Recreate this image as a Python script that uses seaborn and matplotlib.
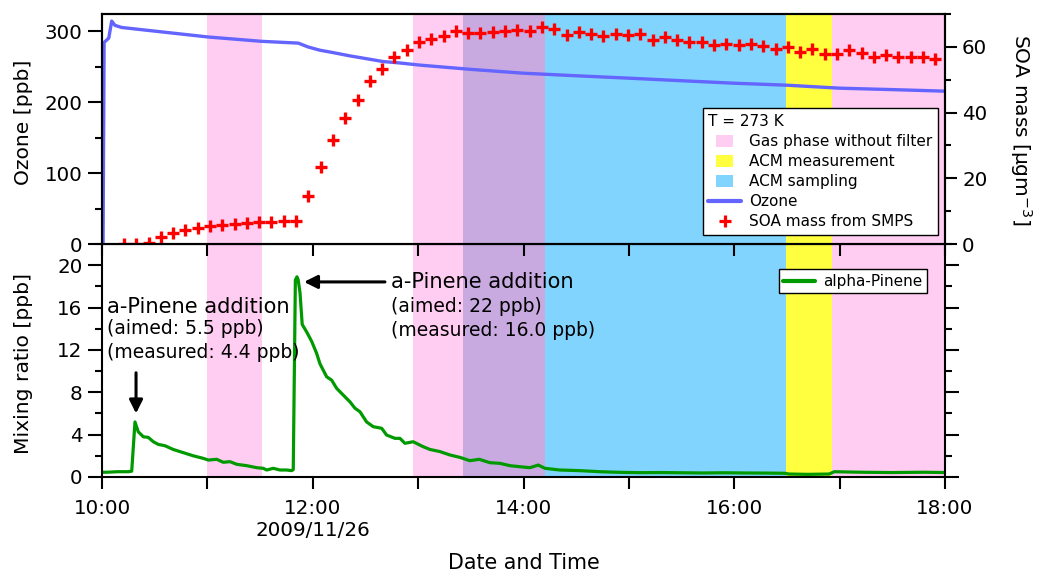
import matplotlib
matplotlib.use("Agg")
import numpy as np
import pandas as pd
import matplotlib.pyplot as plt
import seaborn as sns
from matplotlib.patches import Patch, Rectangle
from matplotlib.lines import Line2D
from matplotlib.legend_handler import HandlerPatch
from matplotlib.ticker import MultipleLocator, FixedLocator

# ---------------------------------------------------------------------------
# Data (time in decimal hours on 2009/11/26)
# ---------------------------------------------------------------------------
ozone_time = [10.01, 10.02, 10.064, 10.092, 10.123, 10.187, 11.008, 11.515,
              11.862, 11.957, 12.068, 12.19, 12.353, 12.511, 12.669, 12.827,
              13.017, 13.5, 14.0, 14.5, 15.0, 15.5, 16.0, 16.5, 17.0, 17.5, 18.0]
ozone_ppb = [0, 284, 290, 314, 308, 305, 291.6, 285.5,
             283, 277.5, 273, 269.7, 265, 261, 257, 255,
             252, 246, 240.6, 237, 233.6, 230, 226.5, 223.7, 219.5, 217.5, 215.3]

# SMPS scans: first scan start and scan interval in minutes after 10:00
smps_first_scan_min = 12.5
smps_scan_interval_min = 7.0
soa_mass = [0, 0, 0.4, 2.0, 3.3, 4.3, 4.9, 5.6, 5.8, 6.2, 6.5, 6.7, 6.7, 6.9, 6.9,
            14.6, 23.4, 31.7, 38.3, 43.8, 49.7, 53.4, 57.0,
            59.0, 61.5, 62.5, 63.2, 64.7, 64.3, 64.2, 64.5, 64.7, 65.0, 64.7, 65.9,
            65.3, 63.7, 64.5, 64.0, 63.3, 64.0,
            63.5, 63.8, 62.0, 63.0, 62.2, 61.5, 61.5, 60.5, 61.0, 60.5, 60.8, 60.2,
            59.2, 60.0, 58.5, 59.5, 57.8, 57.8, 59.0,
            58.0, 57.0, 57.5, 57.0, 57.0, 56.8, 56.3]

apinene_time = [10.0, 10.05, 10.15, 10.25, 10.282, 10.313, 10.344, 10.392, 10.439,
                10.487, 10.534, 10.598, 10.676, 10.771, 10.866, 10.961, 11.009,
                11.088, 11.151, 11.214, 11.278, 11.373, 11.468, 11.530, 11.563,
                11.625, 11.689, 11.752, 11.80, 11.815, 11.835, 11.85, 11.862,
                11.879, 11.9, 11.942, 11.99, 12.037, 12.068, 12.132, 12.179,
                12.227, 12.289, 12.353, 12.4, 12.448, 12.511, 12.574, 12.654,
                12.701, 12.78, 12.827, 12.875, 12.953, 13.048, 13.112, 13.207,
                13.302, 13.397, 13.491, 13.58, 13.681, 13.776, 13.871, 13.966,
                14.061, 14.14, 14.203, 14.345, 14.535, 14.725, 14.915, 15.104,
                15.3, 15.5, 15.7, 15.9, 16.1, 16.3, 16.48, 16.52, 16.7, 16.9,
                16.95, 17.2, 17.5, 17.8, 18.0]
apinene_ppb = [0.45, 0.45, 0.5, 0.5, 0.55, 5.2, 4.27, 3.8, 3.74,
               3.33, 3.08, 2.95, 2.6, 2.3, 2.0, 1.76, 1.6,
               1.67, 1.39, 1.45, 1.2, 1.07, 0.88, 0.82, 0.66,
               0.82, 0.66, 0.66, 0.6, 0.7, 18.6, 18.9, 18.6,
               17.4, 14.4, 13.7, 12.8, 11.67, 10.7, 9.46, 9.15,
               8.37, 7.74, 7.1, 6.5, 6.16, 5.2, 4.75, 4.6,
               3.96, 3.65, 3.65, 3.18, 3.33, 2.86, 2.6, 2.4,
               2.08, 1.85, 1.54, 1.67, 1.35, 1.29, 1.07, 0.97,
               0.88, 1.13, 0.82, 0.66, 0.6, 0.5, 0.44, 0.41,
               0.42, 0.4, 0.38, 0.4, 0.38, 0.37, 0.35, 0.28, 0.25, 0.28,
               0.5, 0.45, 0.42, 0.45, 0.42]

gas_phase_periods = [(11.0, 11.52), (12.955, 14.20), (16.93, 18.0)]
acm_sampling_periods = [(13.43, 16.495)]
acm_measurement_periods = [(16.495, 16.93)]

x_ticks = [10, 12, 14, 16, 18]
x_tick_labels = ["10:00", "12:00\n2009/11/26", "14:00", "16:00", "18:00"]

# ---------------------------------------------------------------------------
# Styling
# ---------------------------------------------------------------------------
PINK = "#FFCCF2"
BLUE = "#80D4FD"
YELLOW = "#FFFF40"
PURPLE = "#C8AAE1"
OZONE = "#6464FF"
GREEN = "#009A00"
RED = "#FF0000"

sns.set_style("ticks")
plt.rcParams["font.family"] = ["DejaVu Sans"]
plt.rcParams["axes.linewidth"] = 1.5
for key in ("text.color", "axes.labelcolor", "xtick.color", "ytick.color",
            "axes.edgecolor"):
    plt.rcParams[key] = "black"

smps_time = (smps_first_scan_min + smps_scan_interval_min * np.arange(len(soa_mass))) / 60.0 + 10.0
soa_df = pd.DataFrame({"time": smps_time, "soa": soa_mass})
ozone_df = pd.DataFrame({"time": ozone_time, "ozone": ozone_ppb})
apinene_df = pd.DataFrame({"time": apinene_time, "ppb": apinene_ppb})

fig = plt.figure(figsize=(10.38, 5.75), dpi=100, facecolor="white")
W, H = 1038, 575
ax_bot = fig.add_axes([102 / W, 1 - 477 / H, 843 / W, 233 / H])
ax_top = fig.add_axes([102 / W, 1 - 244 / H, 843 / W, 230 / H], sharex=ax_bot)
ax_soa = ax_top.twinx()


def shade(ax):
    for a, b in gas_phase_periods:
        ax.axvspan(a, b, color=PINK, lw=0, zorder=0)
    for a, b in acm_sampling_periods:
        ax.axvspan(a, b, color=BLUE, lw=0, zorder=0)
    for a, b in acm_measurement_periods:
        ax.axvspan(a, b, color=YELLOW, lw=0, zorder=0)
    # overlap of gas-phase and sampling periods
    for g0, g1 in gas_phase_periods:
        for s0, s1 in acm_sampling_periods:
            lo, hi = max(g0, s0), min(g1, s1)
            if hi > lo:
                ax.axvspan(lo, hi, color=PURPLE, lw=0, zorder=0.5)


shade(ax_top)
shade(ax_bot)

sns.lineplot(data=ozone_df, x="time", y="ozone", ax=ax_top, color=OZONE,
             lw=2.4, legend=False, zorder=3)
sns.lineplot(data=soa_df, x="time", y="soa", ax=ax_soa, color=RED, marker="+",
             linestyle="", markersize=8.3, markeredgewidth=2.4,
             markeredgecolor=RED, legend=False, zorder=4)
sns.lineplot(data=apinene_df, x="time", y="ppb", ax=ax_bot, color=GREEN,
             lw=2.3, legend=False, zorder=3)

# limits
ax_bot.set_xlim(10, 18)
ax_top.set_ylim(0, 324)
ax_soa.set_ylim(0, 70)
ax_bot.set_ylim(0, 22)

# x ticks
ax_bot.set_xticks(x_ticks, x_tick_labels)
ax_bot.xaxis.set_minor_locator(FixedLocator([11, 13, 15, 17]))
ax_bot.tick_params(axis="x", which="both", direction="out", length=8.6,
                   width=1.5, pad=7.4, labelsize=14.3, top=False)
ax_top.tick_params(axis="x", which="both", direction="out", length=8.6,
                   width=1.5, labelbottom=False, top=False)
ax_top.set_xlabel("")
ax_soa.set_xlabel("")

# y ticks
ax_top.set_yticks([0, 100, 200, 300])
ax_top.yaxis.set_minor_locator(MultipleLocator(50))
ax_top.tick_params(axis="y", which="major", direction="out", length=10,
                   width=1.5, pad=4, labelsize=14.3)
ax_top.tick_params(axis="y", which="minor", direction="out", length=4.8,
                   width=1.5)

ax_soa.set_yticks([0, 20, 40, 60])
ax_soa.yaxis.set_minor_locator(MultipleLocator(10))
ax_soa.tick_params(axis="y", which="major", direction="out", length=8.8,
                   width=1.5, pad=3.5, labelsize=14.3)
ax_soa.tick_params(axis="y", which="minor", direction="out", length=4.4,
                   width=1.5)

ax_bot.set_yticks([0, 4, 8, 12, 16, 20])
ax_bot.yaxis.set_minor_locator(MultipleLocator(2))
ax_bot.tick_params(axis="y", which="major", direction="out", length=10,
                   width=1.5, pad=4, labelsize=14.3, right=True, left=True)
ax_bot.tick_params(axis="y", which="minor", direction="out", length=5,
                   width=1.5, right=True, left=True)

for ax in (ax_top, ax_soa, ax_bot):
    for sp in ax.spines.values():
        sp.set_visible(True)
        sp.set_linewidth(1.5)
        sp.set_color("black")
        sp.set_zorder(5)

# axis labels
ax_top.set_ylabel("Ozone [ppb]", fontsize=14.6)
ax_top.yaxis.set_label_coords(-0.0819, 0.528)
ax_bot.set_ylabel("Mixing ratio [ppb]", fontsize=14.6)
ax_bot.yaxis.set_label_coords(-0.0819, 0.488)
ax_soa.set_ylabel("SOA mass [µgm$^{-3}$]", fontsize=14.6, rotation=270,
                  va="bottom")
ax_soa.yaxis.set_label_coords(1.0747, 0.496)
ax_bot.set_xlabel("Date and Time", fontsize=14.9)
ax_bot.xaxis.set_label_coords(0.5, -0.3245)

# annotations
arrow_kw = dict(arrowstyle="-|>", color="black", lw=2.2, mutation_scale=20,
                shrinkA=0, shrinkB=0)
ax_bot.annotate("", xy=(10.323, 6.0), xytext=(10.323, 9.84),
                arrowprops=arrow_kw, zorder=6)
ax_bot.annotate("", xy=(11.917, 18.42), xytext=(12.685, 18.42),
                arrowprops=arrow_kw, zorder=6)

ax_bot.text(10.05, 16.07, "a-Pinene addition", fontsize=15.1, va="center",
            ha="left", zorder=6)
ax_bot.text(10.05, 14.06, "(aimed: 5.5 ppb)", fontsize=13.5, va="center",
            ha="left", zorder=6)
ax_bot.text(10.05, 11.8, "(measured: 4.4 ppb)", fontsize=13.5, va="center",
            ha="left", zorder=6)
ax_bot.text(12.739, 18.42, "a-Pinene addition", fontsize=15.1, va="center",
            ha="left", zorder=6)
ax_bot.text(12.74, 16.07, "(aimed: 22 ppb)", fontsize=13.5, va="center",
            ha="left", zorder=6)
ax_bot.text(12.74, 13.8, "(measured: 16.0 ppb)", fontsize=13.5, va="center",
            ha="left", zorder=6)


# legends
def small_patch(legend, orig_handle, xdescent, ydescent, width, height, fontsize):
    return Rectangle(xy=(-xdescent + 0.23 * width, -ydescent - 0.05 * height),
                     width=0.54 * width, height=1.1 * height)


top_handles = [
    Patch(facecolor=PINK, edgecolor="none", label="Gas phase without filter"),
    Patch(facecolor=YELLOW, edgecolor="none", label="ACM measurement"),
    Patch(facecolor=BLUE, edgecolor="none", label="ACM sampling"),
    Line2D([], [], color=OZONE, lw=3, label="Ozone"),
    Line2D([], [], color=RED, marker="+", linestyle="", markersize=8,
           markeredgewidth=2.3, label="SOA mass from SMPS"),
]
leg = ax_soa.legend(handles=top_handles, title="T = 273 K", alignment="left",
                    loc="lower right", bbox_to_anchor=(0.9917, 0.039),
                    borderaxespad=0, fontsize=11, title_fontsize=11,
                    handlelength=2.1, handletextpad=0.55, labelspacing=0.33,
                    borderpad=0.38, fancybox=False, framealpha=1,
                    edgecolor="black",
                    handler_map={Patch: HandlerPatch(patch_func=small_patch)})
leg.get_frame().set_linewidth(1.0)
leg.set_zorder(10)

bot_handles = [Line2D([], [], color=GREEN, lw=3, label="alpha-Pinene")]
leg2 = ax_bot.legend(handles=bot_handles, loc="upper right",
                     bbox_to_anchor=(0.9786, 0.8914), borderaxespad=0,
                     fontsize=11, handlelength=2.1, handletextpad=0.5,
                     borderpad=0.3, fancybox=False, framealpha=1,
                     edgecolor="black")
leg2.get_frame().set_linewidth(1.0)

fig.savefig("out.png", dpi=100, facecolor="white")
